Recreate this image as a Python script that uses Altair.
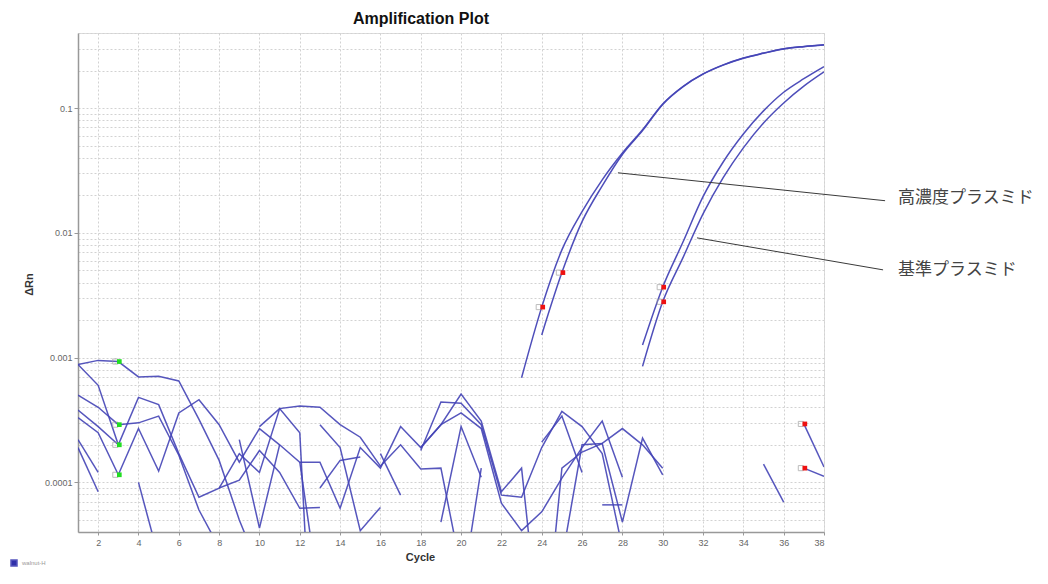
import altair as alt
import pandas as pd

# ---------------- data ----------------
x_ticks = list(range(2, 39, 2))
y_label_values = [0.0001, 0.001, 0.01, 0.1]

# amplification curves (start cycle, values per cycle)
high_a_start = 24
high_a = [1.52e-3, 4.8e-3, 0.0123, 0.0238, 0.0425, 0.066, 0.107, 0.148, 0.187,
          0.221, 0.251, 0.275, 0.298, 0.311, 0.321]
high_b_start = 23
high_b = [6.9e-4, 2.54e-3, 7.3e-3, 0.0148, 0.0266, 0.0436, 0.067, 0.108, 0.149,
          0.188, 0.222, 0.252, 0.276, 0.299, 0.312, 0.322]
std_a_start = 29
std_a = [1.26e-3, 3.67e-3, 8.4e-3, 0.0195, 0.037, 0.062, 0.095, 0.134, 0.172, 0.215]
std_b_start = 29
std_b = [8.5e-4, 2.8e-3, 6.3e-3, 0.0142, 0.0277, 0.048, 0.076, 0.11, 0.15, 0.195]

# background / noise traces (start cycle, values per cycle)
noise_traces = [
    (1, [8.8e-4, 9.5e-4, 9.3e-4, 7.0e-4, 7.1e-4, 6.5e-4, 3.2e-4, 1.5e-4, 5.0e-5, 2.0e-5]),
    (1, [8.8e-4, 6.0e-4, 2.0e-4, 4.8e-4, 4.2e-4, 1.7e-4, 7.6e-5, 9.0e-5, 1.7e-4, 1.2e-4,
         3.9e-4, 4.1e-4, 4.0e-4, 2.9e-4, 2.3e-4, 1.35e-4, 2.0e-4, 1.28e-4, 1.3e-4, 2.0e-5]),
    (1, [5.0e-4, 4.0e-4, 2.9e-4, 3.0e-4, 3.4e-4, 1.65e-4, 6.0e-5, 3.0e-5]),
    (1, [3.3e-4, 2.5e-4, 1.15e-4, 2.7e-4, 1.23e-4, 3.6e-4, 4.6e-4, 2.9e-4, 1.45e-4, 2.7e-4,
         2.0e-4, 1.45e-4, 1.45e-4, 6.2e-5, 1.9e-4, 1.3e-4, 2.8e-4, 1.9e-4, 2.9e-4, 3.6e-4,
         2.7e-4, 6.8e-5, 4.1e-5, 5.8e-5, 1.08e-4, 1.9e-4, 3.1e-4, 1.1e-4]),
    (1, [2.2e-4, 1.2e-4]),
    (1, [1.9e-4, 8.4e-5]),
    (4, [1.0e-4, 2.5e-5]),
    (1, [3.8e-4, 2.8e-4, 2.0e-4]),
    (8, [9.0e-5, 1.04e-4, 1.8e-4, 1.2e-4, 6.2e-5, 6.3e-5]),
    (9, [2.2e-4, 4.3e-5, 2.0e-4]),
    (10, [2.8e-4, 3.9e-4, 2.5e-4, 2.0e-7]),
    (12, [1.45e-4, 1.1e-5]),
    (13, [2.9e-4, 1.9e-4, 4.1e-5, 6.3e-5]),
    (13, [9.0e-5, 1.5e-4, 1.6e-4]),
    (16, [1.7e-4, 7.9e-5]),
    (18, [1.8e-4, 4.4e-4, 4.3e-4, 2.9e-4, 7.9e-5, 7.6e-5, 1.9e-4, 3.7e-4, 2.8e-4, 1.7e-4, 3.0e-5]),
    (18, [1.9e-4, 2.9e-4, 5.1e-4, 3.1e-4, 8.4e-5, 1.3e-4, 4.0e-6]),
    (19, [4.8e-5, 2.8e-4, 1.1e-4]),
    (20, [1.2e-5, 1.3e-4]),
    (24, [2.1e-4, 3.4e-4, 1.2e-4]),
    (24, [3.0e-6, 1.3e-4, 1.75e-4, 2.05e-4, 2.7e-4, 2.0e-4, 1.3e-4]),
    (25, [2.4e-5, 2.0e-4, 2.05e-4, 4.8e-5, 2.26e-4, 1.15e-4]),
    (27, [6.6e-5, 6.6e-5]),
    (35, [1.4e-4, 6.95e-5]),
    (37, [2.94e-4, 1.33e-4]),
    (37, [1.3e-4, 1.12e-4]),
]

# baseline / threshold markers
green_cycles = [3, 3, 3, 3]
green_values = [9.3e-4, 2.9e-4, 2.0e-4, 1.15e-4]
red_cycles = [24, 25, 30, 30, 37, 37]
red_values = [2.54e-3, 4.8e-3, 3.67e-3, 2.8e-3, 2.94e-4, 1.3e-4]

# annotations
ann_labels = ["高濃度プラスミド", "基準プラスミド"]
ann_from_cycle = [27.78, 31.7]
ann_from_value = [0.0303, 0.00912]
ann_to_cycle = [41.03, 40.93]
ann_to_value = [0.0181, 0.00505]
ann_text_cycle = [41.67, 41.67]
ann_text_value = [0.0191, 0.00505]

DYE = "walnut-H"
LINE_COLOR = "#4444b6"

# ---------------- tables ----------------
def rows_from(traces, prefix):
    out = []
    for i, (start, vals) in enumerate(traces):
        for j, v in enumerate(vals):
            out.append({"seg": f"{prefix}{i}", "cycle": start + j, "value": v, "dye": DYE})
    return out

noise_df = pd.DataFrame(rows_from(noise_traces, "n"))
curve_df = pd.DataFrame(rows_from([(high_a_start, high_a), (high_b_start, high_b),
                                   (std_a_start, std_a), (std_b_start, std_b)], "c"))
green_df = pd.DataFrame({"cycle": green_cycles, "value": green_values})
red_df = pd.DataFrame({"cycle": red_cycles, "value": red_values})
ann_line_df = pd.DataFrame({"cycle": ann_from_cycle, "value": ann_from_value,
                            "cycle2": ann_to_cycle, "value2": ann_to_value})
ann_text_df = pd.DataFrame({"cycle": ann_text_cycle, "value": ann_text_value, "label": ann_labels})

# y grid values: all log minor ticks within the domain
y_grid = []
for e in range(-5, 0):
    for k in range(1, 10):
        v = float(f"{k}e{e}")
        if 4e-5 <= v <= 0.4:
            y_grid.append(v)

label_test = "indexof(['0.0001','0.001','0.01','0.1'], toString(datum.value)) >= 0"

x_scale = alt.Scale(domain=[1, 38], nice=False, zero=False)
y_scale = alt.Scale(type="log", domain=[4e-5, 0.4], nice=False)

x_axis = alt.Axis(values=x_ticks, title="Cycle", titleFontSize=11, titleFontWeight="bold",
                  titleFont="Liberation Sans", titleColor="#333", titleX=342, titleY=28,
                  titleBaseline="alphabetic",
                  labelFontSize=9, labelFont="Liberation Sans", labelColor="#666",
                  labelPadding=3, tickSize=3, tickColor="#999",
                  domainColor="#999", domainWidth=1.5,
                  grid=True, gridColor="#d2d2d2", gridDash=[2, 2], gridWidth=1)
y_axis = alt.Axis(values=y_grid, title="ΔRn", titleFontSize=11, titleFontWeight="bold",
                  titleFont="Liberation Sans", titleColor="#333", titleX=-49, titleY=251,
                  titleBaseline="middle",
                  labelExpr=f"{label_test} ? toString(datum.value) : ''",
                  labelFontSize=9, labelFont="Liberation Sans", labelColor="#666",
                  labelPadding=2, tickSize=4, tickColor="#999",
                  tickOpacity={"condition": {"test": label_test, "value": 1}, "value": 0},
                  domainColor="#999", domainWidth=1.5,
                  grid=True, gridColor="#d2d2d2", gridDash=[2, 2], gridWidth=1)

X = alt.X("cycle:Q", scale=x_scale, axis=x_axis)
Y = alt.Y("value:Q", scale=y_scale, axis=y_axis)

color = alt.Color("dye:N", scale=alt.Scale(domain=[DYE], range=[LINE_COLOR]),
                  legend=alt.Legend(orient="none", legendX=-68, legendY=526, title=None,
                                    symbolType="square", symbolSize=36,
                                    symbolFillColor="#1a1aa0", symbolStrokeColor="#1a1aa0",
                                    labelFontSize=6, labelColor="#999",
                                    labelFont="Liberation Sans"))

noise = alt.Chart(noise_df).mark_line(clip=True, strokeWidth=1.5, opacity=0.9).encode(
    x=X, y=Y, detail="seg:N", color=color, order="cycle:Q")

curves = alt.Chart(curve_df).mark_line(clip=True, strokeWidth=1.5, interpolate="monotone",
                                       opacity=0.95).encode(
    x=X, y=Y, detail="seg:N", color=color, order="cycle:Q")

def markers(df, fill):
    box = alt.Chart(df).mark_point(shape="square", filled=False, size=26, stroke="#a0a0a0",
                                   strokeWidth=1, xOffset=-3, clip=True).encode(x=X, y=Y)
    dot = alt.Chart(df).mark_point(shape="square", filled=True, size=22, color=fill,
                                   opacity=1, xOffset=1, clip=True).encode(x=X, y=Y)
    return box + dot

ann_lines = alt.Chart(ann_line_df).mark_rule(color="#3a3a3a", strokeWidth=1).encode(
    x=X, y=Y, x2="cycle2:Q", y2="value2:Q")

ann_text = alt.Chart(ann_text_df).mark_text(align="left", baseline="middle",
                                            font="Noto Sans CJK JP", fontSize=17,
                                            color="#444").encode(x=X, y=Y, text="label:N")

chart = alt.layer(noise, curves, markers(green_df, "#22dd22"), markers(red_df, "#ee1111"),
                  ann_lines, ann_text).properties(
    width=746, height=499,
    title=alt.TitleParams("Amplification Plot", fontSize=16, font="Liberation Sans",
                          fontWeight="bold", color="#111", anchor="middle", dx=-30, offset=6),
    autosize=alt.AutoSizeParams(type="none"),
    padding={"left": 70, "top": 25, "right": 216, "bottom": 44},
).configure_view(stroke="#b5b5b5", strokeWidth=1).configure(background="white")

chart.save("out.html", embed_options={"renderer": "svg", "actions": False})
